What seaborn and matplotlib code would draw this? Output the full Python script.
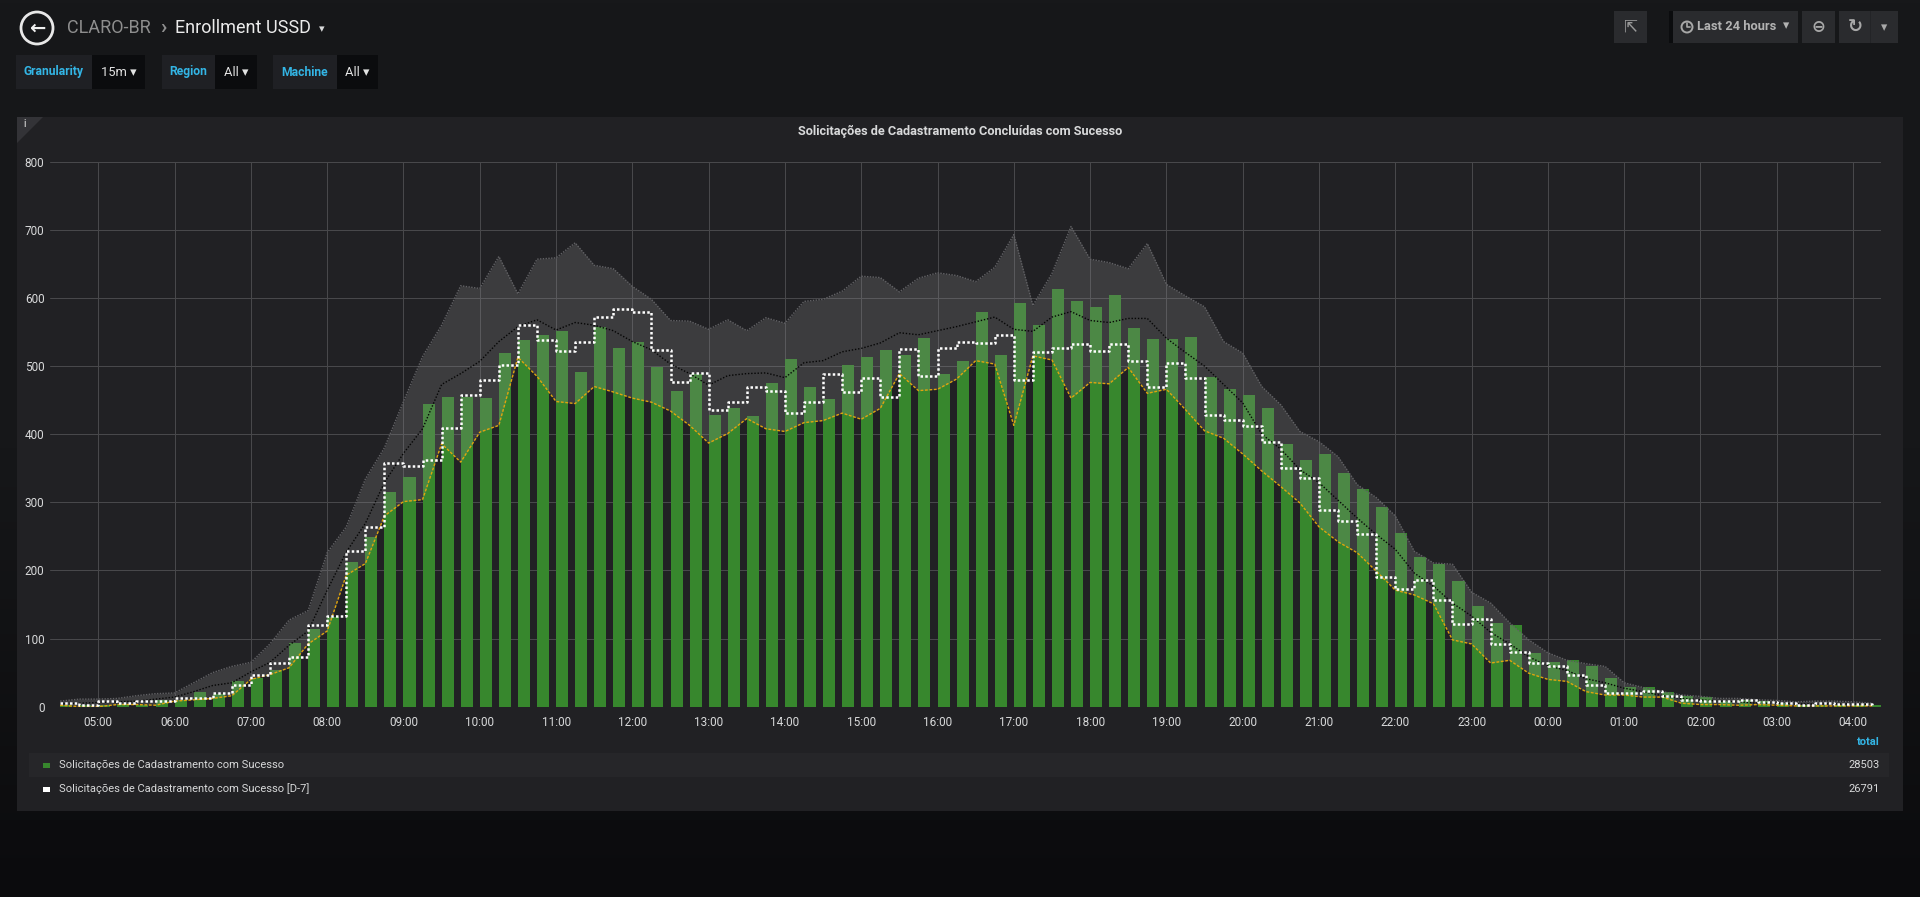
import numpy as np
import pandas as pd
import matplotlib
matplotlib.use('Agg')
import matplotlib.pyplot as plt
import matplotlib.dates as mdates
from matplotlib.patches import Rectangle, Polygon, Ellipse
from matplotlib.lines import Line2D
from matplotlib.colors import LinearSegmentedColormap
import seaborn as sns

# valores a cada 15 min, de 04:30 até 04:15 do dia seguinte
sucesso = [2, 3, 3, 4, 3, 10, 10, 22, 19, 37,
           42, 54, 93, 114, 132, 212, 249, 315,
           337, 444, 455, 455, 453, 519, 538, 546,
           551, 491, 557, 526, 536, 498, 464, 489,
           428, 438, 426, 475, 511, 470, 452, 502,
           513, 523, 516, 541, 489, 508, 579, 517,
           593, 560, 613, 595, 587, 604, 556, 540,
           540, 542, 484, 466, 457, 439, 385, 362,
           371, 343, 319, 293, 255, 220, 209, 184,
           147, 123, 120, 79, 66, 68, 59, 42,
           29, 29, 22, 15, 14, 8, 10, 8,
           5, 3, 2, 3, 3, 2]

sucesso_d7 = [5, 2, 8, 5, 8, 8, 12, 12, 20, 32,
              47, 64, 73, 120, 133, 228, 264, 358,
              353, 362, 409, 457, 480, 502, 561, 539,
              522, 536, 572, 584, 580, 523, 477, 490,
              435, 448, 470, 464, 431, 448, 488, 462,
              483, 455, 525, 485, 526, 536, 534, 545,
              479, 520, 526, 532, 522, 532, 507, 469,
              505, 482, 428, 421, 412, 388, 350, 335,
              288, 273, 253, 190, 172, 186, 157, 121,
              129, 92, 80, 64, 59, 47, 32, 20,
              20, 23, 16, 9, 8, 8, 9, 7,
              5, 2, 6, 4, 4, 3]

faixa_max = [8, 11, 11, 12, 16, 19, 20, 35, 50, 59,
             65, 92, 127, 141, 226, 264, 334, 380,
             448, 514, 560, 618, 614, 661, 606, 657,
             659, 681, 648, 643, 617, 598, 567, 566,
             554, 568, 552, 571, 563, 595, 598, 610,
             632, 630, 609, 629, 637, 633, 624, 645,
             693, 589, 636, 705, 657, 652, 643, 680,
             620, 603, 587, 536, 519, 470, 443, 404,
             389, 367, 326, 307, 280, 228, 211, 209,
             168, 152, 123, 98, 79, 68, 63, 59,
             35, 28, 22, 17, 15, 12, 12, 10,
             9, 7, 8, 8, 7, 5]

faixa_min = [2, 0, 0, 3, 3, 2, 8, 10, 12, 16,
             40, 47, 57, 92, 111, 193, 210, 280,
             301, 304, 386, 359, 403, 413, 513, 485,
             448, 445, 470, 462, 453, 447, 434, 413,
             387, 401, 423, 408, 404, 417, 420, 431,
             422, 438, 489, 464, 466, 481, 508, 503,
             413, 515, 509, 453, 476, 474, 498, 460,
             466, 436, 405, 394, 371, 346, 323, 299,
             264, 242, 226, 199, 171, 164, 151, 98,
             92, 64, 68, 49, 40, 37, 22, 17,
             17, 14, 14, 5, 3, 3, 2, 3,
             2, 1, 1, 1, 1, 1]

media = [4, 5, 6, 7, 8, 11, 14, 22, 31, 35,
         51, 65, 90, 111, 171, 227, 269, 329,
         372, 408, 473, 489, 507, 536, 558, 568,
         553, 564, 560, 552, 536, 524, 503, 489,
         472, 486, 489, 490, 483, 505, 508, 521,
         526, 534, 549, 546, 552, 558, 565, 572,
         554, 551, 572, 580, 567, 564, 570, 570,
         541, 520, 500, 473, 446, 400, 378, 348,
         329, 303, 277, 253, 231, 196, 177, 152,
         133, 109, 92, 73, 60, 53, 41, 35,
         27, 22, 16, 12, 10, 8, 7, 5,
         5, 4, 4, 4, 4, 3]

legend_names = ['Solicitações de Cadastramento com Sucesso',
                'Solicitações de Cadastramento com Sucesso [D-7]']
legend_totals = ['28503', '26791']
titulo = 'Solicitações de Cadastramento Concluídas com Sucesso'

W, H = 1920, 897
TXT = '#d8d9da'
GREEN = '#37872d'

sns.set_style('dark', {'axes.facecolor': '#212124', 'grid.color': '#48484b'})
plt.rcParams['font.family'] = ['Roboto', 'DejaVu Sans']

fig = plt.figure(figsize=(W / 100, H / 100), dpi=100)


def box(x0, y0, x1, y1, color, z=1):
    fig.patches.append(Rectangle((x0 / W, 1 - y1 / H), (x1 - x0) / W, (y1 - y0) / H,
                                 transform=fig.transFigure, facecolor=color,
                                 edgecolor='none', zorder=z))


def txt(x, y, s, **kw):
    kw.setdefault('va', 'center')
    kw.setdefault('color', TXT)
    fig.text(x / W, 1 - y / H, s, **kw)


# fundo da página (gradiente escuro)
bg = fig.add_axes([0, 0, 1, 1], zorder=-10)
cmap = LinearSegmentedColormap.from_list('pg', ['#17181a', '#161719', '#0b0b0d'])
bg.imshow(np.linspace(0, 1, 256)[:, None], aspect='auto', cmap=cmap, extent=[0, 1, 0, 1])
bg.axis('off')

# cabeçalho
fig.patches.append(Ellipse((37 / W, 1 - 28 / H), 32 / W, 32 / H, transform=fig.transFigure,
                           facecolor='none', edgecolor='#e8e8e8', lw=2, zorder=2))
txt(37, 28, '←', ha='center', fontsize=14, weight='bold', color='#f0f0f0',
    family=['DejaVu Sans'])
txt(67, 28, 'CLARO-BR', fontsize=13, color='#8e8e8e')
txt(160, 27, '›', fontsize=15, color='#8e8e8e', weight='bold')
txt(175, 28, 'Enrollment USSD', fontsize=13, color='#ececec')
txt(322, 29, '▾', ha='center', fontsize=8, color='#d8d9da', family=['DejaVu Sans'])

# variáveis do dashboard
variaveis = [('Granularity', '15m', 16, 92, 145),
             ('Region', 'All', 162, 215, 257),
             ('Machine', 'All', 273, 337, 378)]
for nome, valor, a, b, c in variaveis:
    box(a, 55, b, 89, '#1f2024', z=2)
    box(b, 55, c, 89, '#0b0c0e', z=2)
    txt((a + b) / 2, 72, nome, ha='center', fontsize=8.7, weight='bold', color='#33b5e5')
    txt((b + c) / 2, 72, valor + ' ▾', ha='center', fontsize=9.3, color='#e3e3e3')

# barra de ferramentas
box(1614, 11, 1647, 43, '#2a2b2e', z=2)
txt(1630, 27, '⇱', ha='center', fontsize=12, color='#9a9a9a', family=['DejaVu Sans'])
box(1669, 11, 1673, 43, '#0b0c0e', z=2)
box(1673, 11, 1798, 43, '#2a2b2e', z=2)
fig.patches.append(Ellipse((1687 / W, 1 - 27 / H), 11 / W, 11 / H, transform=fig.transFigure,
                           facecolor='none', edgecolor='#a8a8a8', lw=1.4, zorder=3))
fig.lines.append(Line2D([1687 / W, 1687 / W, 1690 / W], [1 - 23.5 / H, 1 - 27.5 / H, 1 - 27.5 / H],
                        transform=fig.transFigure, color='#a8a8a8', lw=1.2, zorder=3))
txt(1697, 27, 'Last 24 hours', fontsize=9.3, weight='bold', color='#b2b2b2')
txt(1786, 26, '▾', ha='center', fontsize=9, color='#b2b2b2', family=['DejaVu Sans'])
box(1802, 11, 1835, 43, '#2a2b2e', z=2)
txt(1818, 27, '⊖', ha='center', fontsize=12, weight='bold', color='#a8a8a8',
    family=['DejaVu Sans'])
box(1839, 11, 1898, 43, '#2a2b2e', z=2)
box(1870, 11, 1871, 43, '#232427', z=3)
txt(1855, 27, '↻', ha='center', fontsize=13, weight='bold', color='#a8a8a8',
    family=['DejaVu Sans'])
txt(1884, 28, '▾', ha='center', fontsize=9, color='#a8a8a8', family=['DejaVu Sans'])

# painel
box(17, 117, 1903, 811, '#212124', z=1)
fig.patches.append(Polygon([(17 / W, 1 - 117 / H), (43 / W, 1 - 117 / H), (17 / W, 1 - 143 / H)],
                           closed=True, transform=fig.transFigure, facecolor='#333337',
                           edgecolor='none', zorder=2))
txt(23, 124, 'i', fontsize=7, color='#b0b0b0', weight='bold')
txt(960, 131, titulo, ha='center', fontsize=9.2, weight='bold', color='#d8d9da')

# gráfico
ax = fig.add_axes([50 / W, 1 - 706.6 / H, (1881 - 50) / W, (706.6 - 161.8) / H], zorder=5)
ax.set_facecolor('#212124')

times = pd.date_range('2018-06-01 04:30', periods=len(sucesso), freq='15min')
bar_w = 15 * 0.63 / 1440

ax.bar(times, sucesso, width=bar_w, align='edge', color=GREEN, lw=0, zorder=2)
ax.fill_between(times, faixa_min, faixa_max, color='#8d8d8f', alpha=0.25, lw=0, zorder=3)
sns.lineplot(x=times, y=faixa_max, ax=ax, color='#626265', lw=1,
             linestyle=(0, (1, 1)), zorder=4)
sns.lineplot(x=times, y=media, ax=ax, color='#050505', lw=1,
             linestyle=(0, (1, 1.3)), zorder=5)
sns.lineplot(x=times, y=faixa_min, ax=ax, color='#e0a50c', lw=1,
             linestyle=(0, (2, 1.2)), zorder=5)
sns.lineplot(x=times, y=sucesso_d7, ax=ax, color='white', lw=1.8,
             linestyle=(0, (1, 0.9)), drawstyle='steps-post', zorder=6)

ax.set_ylim(0, 800)
ax.set_yticks(range(0, 801, 100))
t0 = times[0] - pd.Timedelta(minutes=8)
ax.set_xlim(t0, t0 + pd.Timedelta(hours=24))
ax.xaxis.set_major_locator(mdates.HourLocator())
ax.xaxis.set_major_formatter(mdates.DateFormatter('%H:%M'))
ax.grid(True, color='#48484b', lw=0.75)
ax.set_axisbelow(True)
ax.tick_params(axis='both', length=0, labelsize=8.5, labelcolor=TXT)
ax.tick_params(axis='y', pad=4)
ax.tick_params(axis='x', pad=7)
ax.set_xlabel('')
ax.set_ylabel('')
for s in ax.spines.values():
    s.set_visible(False)

# legenda em tabela
txt(1880, 742, 'total', ha='right', fontsize=8, weight='bold', color='#33b5e5')
box(29, 753, 1889, 777, '#262629', z=2)
cores = [GREEN, '#ffffff']
for i, (nome, total) in enumerate(zip(legend_names, legend_totals)):
    yy = 765 + 24 * i
    box(43, yy - 2.5, 50, yy + 2.5, cores[i], z=3)
    txt(59, yy, nome, fontsize=8, color=TXT)
    txt(1880, yy, total, ha='right', fontsize=8, color=TXT)

fig.savefig('out.png', dpi=100, facecolor='#161719')
